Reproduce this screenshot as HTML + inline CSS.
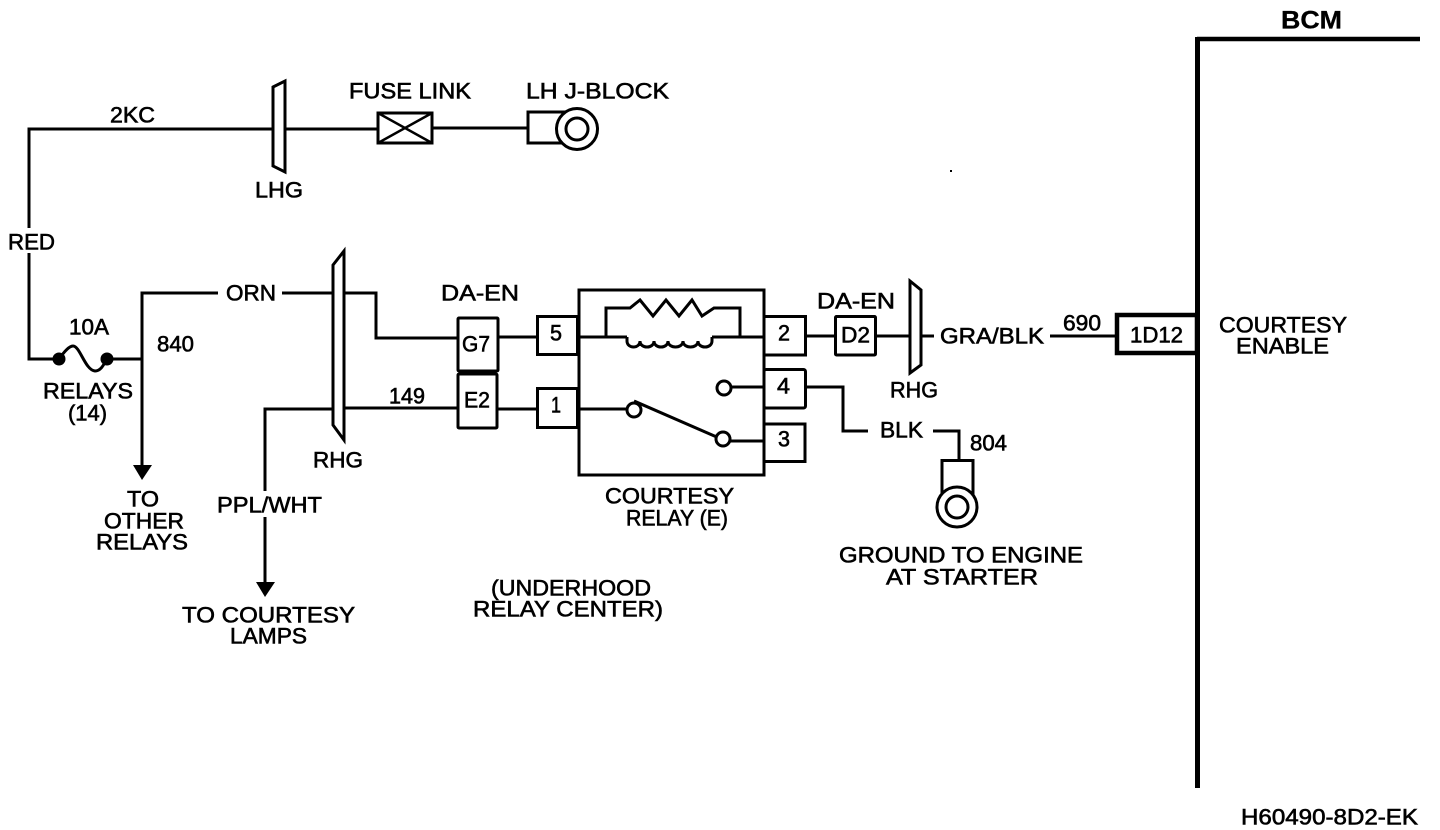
<!DOCTYPE html>
<html><head><meta charset="utf-8"><title>Courtesy relay wiring diagram</title>
<style>
html,body{margin:0;padding:0;background:#fff;width:1440px;height:830px;overflow:hidden}
svg{display:block}
text{font-family:"Liberation Sans",sans-serif;font-size:22px;fill:#000;stroke:#000;stroke-width:.6px}
.l{fill:none;stroke:#000;stroke-width:3;stroke-linejoin:miter}
.b{fill:#fff;stroke:#000;stroke-width:3}
</style></head><body>
<svg width="1440" height="830" viewBox="0 0 1440 830" xmlns="http://www.w3.org/2000/svg">
<!-- BCM -->
<path d="M1197.500 37V788" fill="none" stroke="#000" stroke-width="5"/>
<path d="M1197 39H1420" fill="none" stroke="#000" stroke-width="4.500"/>
<!-- top circuit -->
<path class="l" d="M272 129H29V228M29 253V359H59"/>
<path class="l" d="M59 359C64 352 69 346 73 346C80 346 85 370 95 371C101 371 104 364 107 359"/>
<path class="l" d="M107 359H142"/>
<circle cx="59" cy="359" r="6.500"/><circle cx="107" cy="359" r="6.500"/>
<path class="l" d="M285 129H377M433 128H527"/>
<path class="b" d="M273 87L285 81V172L273 166Z"/>
<rect class="b" x="378" y="113" width="54" height="30"/>
<path class="l" d="M378 113L432 143M378 143L432 113" style="stroke-width:2.500"/>
<path class="l" d="M565 112H528V143H565"/>
<circle class="b" cx="577" cy="129" r="20.500"/><circle class="b" cx="577" cy="129" r="11"/>
<!-- ORN / 840 -->
<path class="l" d="M218 293H142V468"/>
<path d="M133 465H152L142 480Z"/>
<path class="l" d="M282 293H376V338H458"/>
<!-- PPL -->
<path class="l" d="M333 409H265V491M265 517V584"/>
<path d="M256 582H275L265 597Z"/>
<path class="l" d="M344 408H458"/>
<path class="b" d="M333 265L344 251V440L333 425Z"/>
<!-- connectors left -->
<path class="l" d="M498 337H537M498 409H537"/>
<rect class="b" x="458" y="318" width="40" height="53" rx="1"/>
<rect class="b" x="458" y="374" width="39" height="54" rx="1"/>
<rect class="b" x="537.500" y="316.500" width="40" height="38"/>
<rect class="b" x="537.500" y="388.500" width="40" height="39"/>
<!-- relay -->
<rect class="l" x="579" y="290" width="185" height="185"/>
<rect class="b" x="764" y="316.500" width="41.500" height="38.500"/>
<rect class="b" x="764" y="369.500" width="41.500" height="38.500" rx="2"/>
<rect class="b" x="764" y="424" width="41" height="37.500"/>
<path class="l" d="M579 337H627M712 337H764"/>
<path class="l" d="M627 337V341C627 349 640 349 640 341C640 349 654 349 654 341C654 349 668 349 668 341C668 349 683 349 683 341C683 349 698 349 698 341C698 349 712 349 712 341V337"/>
<path class="l" d="M606 337V308H630L640 300L653 316L666 300L679 316L692 300L702 316L714 308H740V337"/>
<path class="l" d="M579 409H627M731 387H764M730 441H764"/>
<path class="l" d="M634 401L719 438"/>
<circle class="b" cx="634" cy="410" r="7"/>
<circle class="b" cx="724" cy="388" r="7"/>
<circle class="b" cx="723" cy="439" r="7"/>
<!-- right -->
<path class="l" d="M806 336H835M876 336H910M921 336H934M1050 336H1116"/>
<rect class="b" x="835.500" y="316.500" width="40" height="38.500" rx="1"/>
<path class="b" d="M910 281L921 290V365L910 373Z"/>
<rect x="1117" y="315" width="80" height="38" fill="#fff" stroke="#000" stroke-width="4.500"/>
<path class="l" d="M806 387H843V431H868M933 431H959V460"/>
<path class="b" d="M942 498V460.500H973V498"/>
<circle class="b" cx="957" cy="507" r="20"/><circle class="b" cx="957" cy="507" r="11"/>
<rect x="950" y="170" width="2" height="2"/>
<!-- labels -->
<g transform="translate(0,-0.6)">
<text x="1281" y="29" textLength="61" lengthAdjust="spacingAndGlyphs" style="font-size:25px;font-weight:bold;stroke-width:.3px">BCM</text>
<text x="110" y="123" textLength="45" lengthAdjust="spacingAndGlyphs">2KC</text>
<text x="255" y="198" textLength="48" lengthAdjust="spacingAndGlyphs">LHG</text>
<text x="349" y="99" textLength="122" lengthAdjust="spacingAndGlyphs">FUSE LINK</text>
<text x="526" y="99" textLength="143" lengthAdjust="spacingAndGlyphs">LH J-BLOCK</text>
<text x="8" y="250" textLength="47" lengthAdjust="spacingAndGlyphs">RED</text>
<text x="226" y="301" textLength="50" lengthAdjust="spacingAndGlyphs">ORN</text>
<text x="69" y="335" textLength="40" lengthAdjust="spacingAndGlyphs">10A</text>
<text x="157" y="352" textLength="37" lengthAdjust="spacingAndGlyphs">840</text>
<text x="43" y="399" textLength="90" lengthAdjust="spacingAndGlyphs">RELAYS</text>
<text x="68" y="421" textLength="39" lengthAdjust="spacingAndGlyphs">(14)</text>
<text x="127" y="507" textLength="32" lengthAdjust="spacingAndGlyphs">TO</text>
<text x="104" y="529" textLength="80" lengthAdjust="spacingAndGlyphs">OTHER</text>
<text x="96" y="550" textLength="92" lengthAdjust="spacingAndGlyphs">RELAYS</text>
<text x="313" y="468" textLength="50" lengthAdjust="spacingAndGlyphs">RHG</text>
<text x="217" y="513" textLength="105" lengthAdjust="spacingAndGlyphs">PPL/WHT</text>
<text x="182" y="623" textLength="173" lengthAdjust="spacingAndGlyphs">TO COURTESY</text>
<text x="230" y="644" textLength="77" lengthAdjust="spacingAndGlyphs">LAMPS</text>
<text x="389" y="404" textLength="36" lengthAdjust="spacingAndGlyphs">149</text>
<text x="441" y="301" textLength="78" lengthAdjust="spacingAndGlyphs">DA-EN</text>
<text x="817" y="309" textLength="78" lengthAdjust="spacingAndGlyphs">DA-EN</text>
<text x="462" y="352" textLength="28" lengthAdjust="spacingAndGlyphs">G7</text>
<text x="464" y="408" textLength="26" lengthAdjust="spacingAndGlyphs">E2</text>
<text x="550" y="341" textLength="12" lengthAdjust="spacingAndGlyphs">5</text>
<text x="551" y="413" textLength="10" lengthAdjust="spacingAndGlyphs">1</text>
<text x="778" y="341" textLength="12" lengthAdjust="spacingAndGlyphs">2</text>
<text x="777" y="394" textLength="13" lengthAdjust="spacingAndGlyphs">4</text>
<text x="778" y="447" textLength="12" lengthAdjust="spacingAndGlyphs">3</text>
<text x="841" y="343" textLength="29" lengthAdjust="spacingAndGlyphs">D2</text>
<text x="890" y="398" textLength="48" lengthAdjust="spacingAndGlyphs">RHG</text>
<text x="940" y="344" textLength="104" lengthAdjust="spacingAndGlyphs">GRA/BLK</text>
<text x="1063" y="331" textLength="38" lengthAdjust="spacingAndGlyphs">690</text>
<text x="1130" y="343" textLength="53" lengthAdjust="spacingAndGlyphs">1D12</text>
<text x="1219" y="333" textLength="128" lengthAdjust="spacingAndGlyphs">COURTESY</text>
<text x="1236" y="354" textLength="93" lengthAdjust="spacingAndGlyphs">ENABLE</text>
<text x="880" y="438" textLength="43" lengthAdjust="spacingAndGlyphs">BLK</text>
<text x="970" y="451" textLength="37" lengthAdjust="spacingAndGlyphs">804</text>
<text x="605" y="504" textLength="129" lengthAdjust="spacingAndGlyphs">COURTESY</text>
<text x="626" y="526" textLength="102" lengthAdjust="spacingAndGlyphs">RELAY (E)</text>
<text x="839" y="563" textLength="244" lengthAdjust="spacingAndGlyphs">GROUND TO ENGINE</text>
<text x="886" y="585" textLength="152" lengthAdjust="spacingAndGlyphs">AT STARTER</text>
<text x="491" y="596" textLength="160" lengthAdjust="spacingAndGlyphs">(UNDERHOOD</text>
<text x="473" y="617" textLength="190" lengthAdjust="spacingAndGlyphs">RELAY CENTER)</text>
<text x="1241" y="825" textLength="177" lengthAdjust="spacingAndGlyphs">H60490-8D2-EK</text>
</g>
</svg>
</body></html>
